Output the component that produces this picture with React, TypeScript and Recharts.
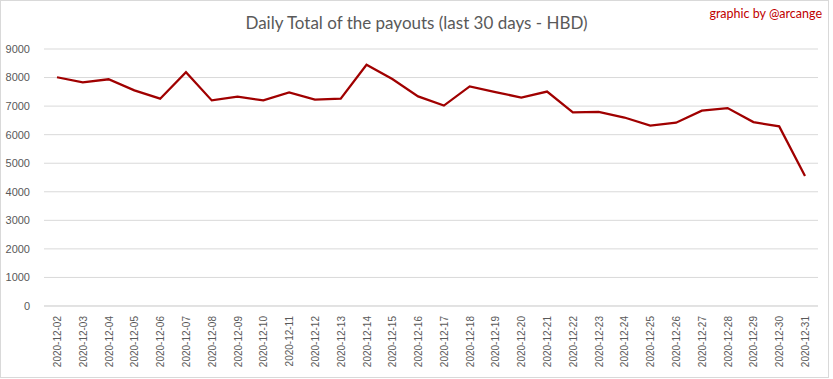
import { LineChart, Line, XAxis, YAxis, CartesianGrid } from "recharts";

// ─── Data ───

const dates = [
  "2020-12-02", "2020-12-03", "2020-12-04", "2020-12-05", "2020-12-06",
  "2020-12-07", "2020-12-08", "2020-12-09", "2020-12-10", "2020-12-11",
  "2020-12-12", "2020-12-13", "2020-12-14", "2020-12-15", "2020-12-16",
  "2020-12-17", "2020-12-18", "2020-12-19", "2020-12-20", "2020-12-21",
  "2020-12-22", "2020-12-23", "2020-12-24", "2020-12-25", "2020-12-26",
  "2020-12-27", "2020-12-28", "2020-12-29", "2020-12-30", "2020-12-31",
];

const payouts = [
  8010, 7830, 7940, 7550, 7260, 8190, 7200, 7330, 7200, 7480,
  7230, 7260, 8450, 7950, 7340, 7020, 7690, 7490, 7300, 7510,
  6780, 6800, 6600, 6320, 6420, 6840, 6930, 6440, 6290, 4550,
];

const yTicks = [0, 1000, 2000, 3000, 4000, 5000, 6000, 7000, 8000, 9000];

const data = dates.map((date, i) => ({ date, value: payouts[i] }));

const font = "'Liberation Sans', Arial, sans-serif";

// ─── Rotated date tick ───

function DateTick(props: any) {
  const { x, y, payload } = props;
  return (
    <text
      x={x}
      y={y + 2}
      dy={4}
      transform={`rotate(-90, ${x}, ${y + 2})`}
      textAnchor="end"
      fill="#595959"
      fontSize={10}
      fontFamily={font}
    >
      {payload.value}
    </text>
  );
}

export default function App() {
  return (
    <div
      style={{
        position: "absolute",
        left: 0,
        top: 0,
        width: 833,
        height: 379,
        background: "#fff",
      }}
    >
      <div
        style={{
          position: "absolute",
          left: 0,
          top: 0,
          width: 829,
          height: 378,
          border: "1px solid #d9d9d9",
          boxSizing: "border-box",
        }}
      />
      <div
        style={{
          position: "absolute",
          left: 0,
          width: 833,
          top: 12,
          textAlign: "center",
          fontFamily: "Lato, sans-serif",
          fontSize: 17,
          color: "#595959",
          lineHeight: "22px",
        }}
      >
        Daily Total of the payouts (last 30 days - HBD)
      </div>
      <div
        style={{
          position: "absolute",
          right: 11,
          top: 7,
          fontFamily: "Lato, sans-serif",
          fontSize: 12.5,
          color: "#c00000",
          lineHeight: "14px",
        }}
      >
        graphic by @arcange
      </div>
      <LineChart
        width={833}
        height={379}
        data={data}
        margin={{ top: 49, right: 15, bottom: 0, left: 0 }}
        style={{ position: "absolute", left: 0, top: 0 }}
      >
        <CartesianGrid vertical={false} stroke="#d9d9d9" />
        <XAxis
          dataKey="date"
          interval={0}
          height={73}
          padding={{ left: 13, right: 13 }}
          axisLine={{ stroke: "#d9d9d9" }}
          tickLine={false}
          tick={<DateTick />}
        />
        <YAxis
          width={44}
          domain={[0, 9000]}
          ticks={yTicks}
          axisLine={false}
          tickLine={false}
          tick={{ fill: "#595959", fontSize: 11, fontFamily: font }}
          tickMargin={8}
        />
        <Line
          dataKey="value"
          stroke="#a00000"
          strokeWidth={2.25}
          dot={false}
          isAnimationActive={false}
        />
      </LineChart>
    </div>
  );
}
